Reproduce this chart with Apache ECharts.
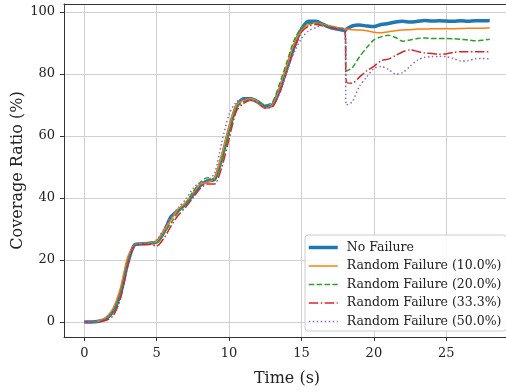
<!DOCTYPE html>
<html>
<head>
<meta charset="utf-8">
<script src="https://cdn.jsdelivr.net/npm/echarts@6/dist/echarts.min.js"></script>
<style>
html,body{margin:0;padding:0;background:#fff;}
#chart{width:506px;height:392px;}
</style>
</head>
<body>
<div id="chart"></div>
<script>
// Time stamps (s)
const times = [0,0.5,1,1.5,2,2.5,3,3.5,4,4.5,5,5.5,6,6.5,7,7.5,8,8.5,9,9.5,10,10.5,11,11.5,12,12.5,13,13.5,14,14.5,15,15.5,16,16.5,17,17.5,18,18.1,18.5,19,19.5,20,20.5,21,21.5,22,22.5,23,23.5,24,24.5,25,25.5,26,26.5,27,27.5,28];

const seriesNames = ['No Failure','Random Failure (10.0%)','Random Failure (20.0%)','Random Failure (33.3%)','Random Failure (50.0%)'];

const noFailure = [0,0,0.2,1,3.5,9,19,25,25.2,25.4,25.8,29,34,36,38,41,44,45.5,46,53,62,69.5,72,72,71,69.5,70,75,82,89,94.5,97,97,96,95,94.5,94,94.5,95.5,95.8,95.5,95.3,96,96.3,96.8,97,96.8,97,97.3,97.1,97.2,97.1,97,97.2,97,97.2,97.2,97.3];

const fail10 = [0,0,0.3,1.5,4.5,11,21,25,25.3,25.5,26,29.5,33,36.5,38.5,41.5,44.5,45,46.5,54,63,70,71.5,72,71,69,70,76,83,90,94,96,96.5,96,95.5,95,94.5,94.5,94.3,94.2,94,93.5,93.3,93.6,94,94.2,94.3,94.5,94.5,94.6,94.6,94.7,94.6,94.7,94.8,94.8,94.8,94.9];

const fail20 = [0,0,0.2,1,3,9,19.5,25,25.3,25.4,25.5,28.5,32,35.5,38,42,45,46.5,46,52,61,69,71,71.5,71,70,71,77,84,91,95,96.3,96.2,95.8,95.3,94.8,94.5,81,82,85.5,88.5,91,92,92.5,91.8,90.6,91,91.5,91.6,91.5,91.5,91.5,91.4,91.2,91,90.7,90.9,91.2];

const fail33 = [0,0,0.1,0.5,2,7.5,18,24.8,25,25,24.5,27,31,34.5,37,40,43,44.5,44.5,50,59,68,70.5,71.5,70.5,69,69.5,74,81,88,93.5,95.5,96,95.5,95,94.5,94,77.5,77,79,81,82.5,84.3,84.8,86,87.2,87.8,87.3,86.8,86.6,86.4,86.5,87,87.2,87.2,87.2,87.2,87.2];

const fail50 = [0,0,0.3,1.2,4,10,20,25,25.5,25.5,26.5,30,34,37,39.5,43,45,45.5,48,58,67,71,72,71.5,70.5,69,70,75,81,87,91.5,94,95,95.8,95.5,94.8,94.3,70,71,76,79,81.8,82.4,81.5,80,80.5,82.5,84.5,85.4,85.6,85.7,85.6,85,84.2,84.3,84.9,85,84.9];

const xTicks = [0,5,10,15,20,25];
const yTicks = [0,20,40,60,80,100];

const colors = ['#1f77b4','#ff7f0e','#2ca02c','#d62728','#9467bd'];
const widths = [3.5,1.5,1.5,1.5,1.5];
const dashes = ['solid','solid',[5.5,2.4],[9.6,2.4,1.5,2.4],[1.5,2.5]];
const values = [noFailure, fail10, fail20, fail33, fail50];

const FONT = '"DejaVu Serif", serif';

const chart = echarts.init(document.getElementById('chart'), null, {renderer:'canvas'});

const series = values.map((vals, i) => ({
  name: seriesNames[i],
  type: 'line',
  xAxisIndex: 0,
  data: times.map((t, k) => [t, vals[k]]),
  showSymbol: false,
  symbol: 'none',
  smooth: 0.25,
  animation: false,
  lineStyle: {color: colors[i], width: widths[i], type: dashes[i]},
  itemStyle: {color: colors[i]},
  z: 2 + i
}));

chart.setOption({
  animation: false,
  backgroundColor: '#fff',
  grid: {left: 64, top: 4, width: 446, height: 333, outerBoundsMode: 'none', containLabel: false},
  xAxis: [{
    type: 'value', min: -1.4, max: 29.4, position: 'bottom',
    name: 'Time (s)', nameLocation: 'middle', nameGap: 34, nameMoveOverlap: false,
    nameTextStyle: {fontFamily: FONT, fontSize: 16, color: '#222'},
    axisLine: {show: true, onZero: false, lineStyle: {color: '#333', width: 1}},
    axisTick: {show: true, length: 4, customValues: xTicks, lineStyle: {color: '#333'}},
    axisLabel: {customValues: xTicks, margin: 10, fontFamily: FONT, fontSize: 13, color: '#222'},
    splitLine: {show: true, lineStyle: {color: '#d0d0d0', width: 1}}
  }, {
    type: 'value', min: -1.4, max: 29.4, position: 'top',
    axisLine: {show: true, onZero: false, lineStyle: {color: '#333', width: 1}},
    axisTick: {show: false}, axisLabel: {show: false}, splitLine: {show: false}
  }],
  yAxis: {
    type: 'value', min: -4.87, max: 102.6,
    name: 'Coverage Ratio (%)', nameLocation: 'middle', nameGap: 38, nameMoveOverlap: false,
    nameTextStyle: {fontFamily: FONT, fontSize: 16, color: '#222'},
    axisLine: {show: true, onZero: false, lineStyle: {color: '#333', width: 1}},
    axisTick: {show: true, length: 4, customValues: yTicks, lineStyle: {color: '#333'}},
    axisLabel: {customValues: yTicks, margin: 9, fontFamily: FONT, fontSize: 13, color: '#222'},
    splitLine: {show: true, lineStyle: {color: '#d0d0d0', width: 1}}
  },
  legend: {
    show: true,
    orient: 'vertical',
    left: 305, top: 235,
    data: seriesNames.map((n, i) => ({name: n, lineStyle: {width: widths[i], color: colors[i], type: dashes[i]}})),
    itemWidth: 29, itemHeight: 14, itemGap: 5.5,
    padding: [6, 5, 3, 2],
    backgroundColor: 'rgba(255,255,255,0.85)',
    borderColor: '#cccccc', borderWidth: 1, borderRadius: 3,
    itemStyle: {opacity: 0},
    textStyle: {fontFamily: FONT, fontSize: 12.5, color: '#222', padding: [0,0,0,4]}
  },
  series: series
});
</script>
</body>
</html>
